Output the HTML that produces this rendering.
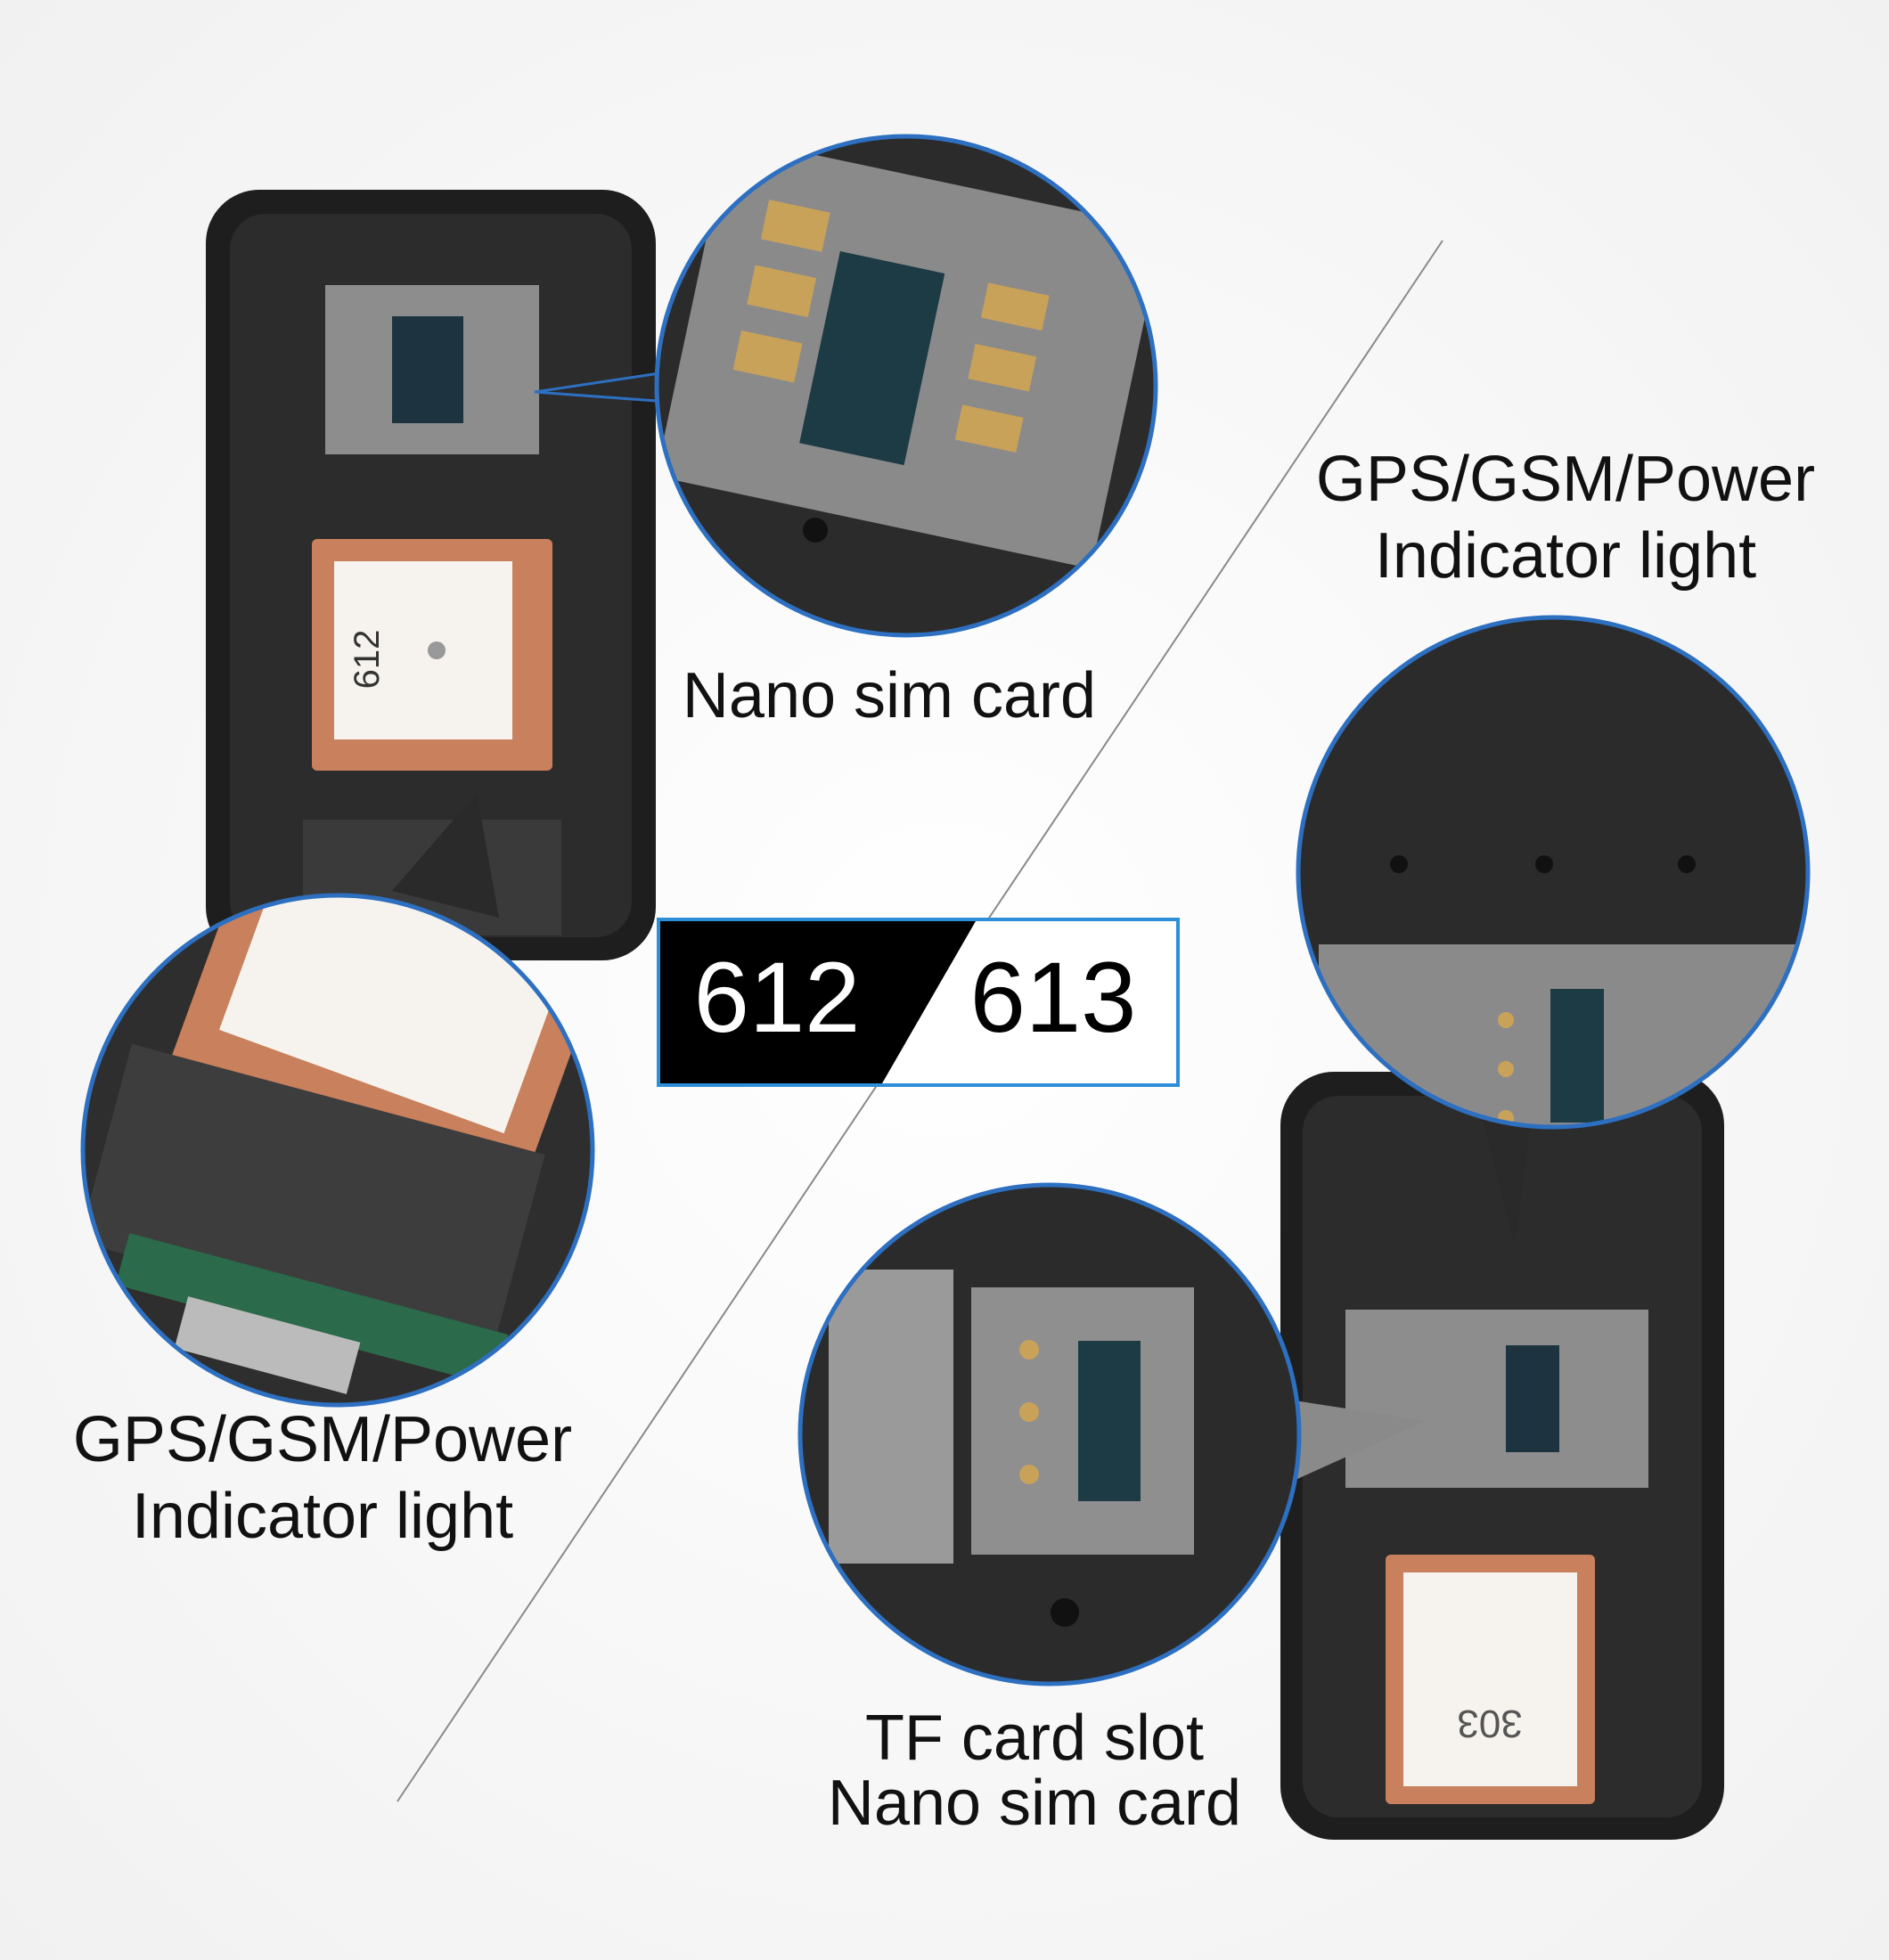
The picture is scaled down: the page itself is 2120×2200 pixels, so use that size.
<!DOCTYPE html>
<html><head><meta charset="utf-8"><style>
html,body{margin:0;padding:0;background:#f8f8f8;}
svg{display:block}
text{font-family:"Liberation Sans",sans-serif;}
</style></head><body>
<svg width="2120" height="2200" viewBox="0 0 2120 2200" xmlns="http://www.w3.org/2000/svg">
<defs>
<radialGradient id="bg" cx="50%" cy="50%" r="70%"><stop offset="0" stop-color="#ffffff"/><stop offset="1" stop-color="#f1f1f1"/></radialGradient>
<clipPath id="c1"><circle cx="1017" cy="433" r="280"/></clipPath>
<clipPath id="c2"><circle cx="379" cy="1291" r="286"/></clipPath>
<clipPath id="c3"><circle cx="1743" cy="979" r="286"/></clipPath>
<clipPath id="c4"><circle cx="1178" cy="1610" r="280"/></clipPath>
</defs>
<rect width="2120" height="2200" fill="url(#bg)"/>
<line x1="1619" y1="270" x2="446" y2="2022" stroke="#8a8a8a" stroke-width="2"/>

<!-- left device -->
<rect x="231" y="213" width="505" height="865" rx="60" fill="#1e1e1e"/>
<rect x="258" y="240" width="451" height="812" rx="40" fill="#2c2c2c"/>
<rect x="365" y="320" width="240" height="190" fill="#8d8d8d"/>
<rect x="440" y="355" width="80" height="120" fill="#1e3340"/>
<rect x="350" y="605" width="270" height="260" rx="6" fill="#c9805c"/>
<rect x="375" y="630" width="200" height="200" fill="#f6f3ee"/>
<text x="425" y="740" font-size="40" fill="#333" transform="rotate(-90 425 740)" text-anchor="middle">612</text>
<circle cx="490" cy="730" r="10" fill="#999"/>
<rect x="340" y="920" width="290" height="130" fill="#3a3a3a"/>
<polygon points="600,440 1000,380 1010,470" fill="#2a2a2a" stroke="#2d6fc0" stroke-width="3"/>
<polygon points="440,1000 535,890 560,1030" fill="#2a2a2a"/>

<!-- top circle -->
<g clip-path="url(#c1)">
<rect x="730" y="150" width="580" height="570" fill="#2b2b2b"/>
<rect x="770" y="200" width="500" height="390" fill="#8a8a8a" transform="rotate(12 1017 400)"/>
<g fill="#c9a25a" transform="rotate(12 1017 400)">
<rect x="830" y="260" width="70" height="45"/><rect x="830" y="335" width="70" height="45"/><rect x="830" y="410" width="70" height="45"/>
<rect x="1090" y="300" width="70" height="40"/><rect x="1090" y="370" width="70" height="40"/><rect x="1090" y="440" width="70" height="40"/>
</g>
<rect x="920" y="300" width="120" height="220" fill="#1d3b45" transform="rotate(12 1017 400)"/>
<circle cx="915" cy="595" r="14" fill="#111"/>
</g>
<circle cx="1017" cy="433" r="280" fill="none" stroke="#2d6fc0" stroke-width="5"/>

<!-- bottom-left circle -->
<g clip-path="url(#c2)">
<rect x="90" y="1000" width="580" height="580" fill="#2e2e2e"/>
<rect x="230" y="960" width="420" height="320" fill="#c9805c" transform="rotate(20 440 1120)"/>
<rect x="270" y="960" width="340" height="260" fill="#f6f3ee" transform="rotate(20 440 1120)"/>
<rect x="110" y="1230" width="480" height="230" fill="#3d3d3d" transform="rotate(15 350 1345)"/>
<rect x="130" y="1440" width="440" height="60" fill="#2b6a4a" transform="rotate(15 350 1470)"/>
<rect x="200" y="1480" width="200" height="60" fill="#bbb" transform="rotate(15 300 1510)"/>
</g>
<circle cx="379" cy="1291" r="286" fill="none" stroke="#2d6fc0" stroke-width="5"/>

<!-- 612/613 box -->
<rect x="739" y="1032" width="583" height="186" fill="#fff" stroke="#2d8fd8" stroke-width="4"/>
<polygon points="741,1034 1095,1034 990,1216 741,1216" fill="#000"/>
<text x="872" y="1158" font-size="112" fill="#fff" text-anchor="middle">612</text>
<text x="1182" y="1158" font-size="112" fill="#000" text-anchor="middle">613</text>

<!-- right device -->
<rect x="1437" y="1203" width="498" height="862" rx="60" fill="#1e1e1e"/>
<rect x="1462" y="1230" width="448" height="810" rx="40" fill="#2c2c2c"/>
<rect x="1510" y="1470" width="340" height="200" fill="#8d8d8d"/>
<rect x="1690" y="1510" width="60" height="120" fill="#1e3340"/>
<rect x="1555" y="1745" width="235" height="280" rx="6" fill="#c9805c"/>
<rect x="1575" y="1765" width="195" height="240" fill="#f6f3ee"/>
<text x="1672" y="1950" font-size="44" fill="#555" text-anchor="middle" transform="rotate(180 1672 1935)">303</text>
<polygon points="1440,1570 1600,1595 1445,1665" fill="#8a8a8a"/>
<polygon points="1660,1240 1700,1400 1720,1240" fill="#2a2a2a"/>

<!-- right top circle -->
<g clip-path="url(#c3)">
<rect x="1450" y="690" width="590" height="580" fill="#2b2b2b"/>
<circle cx="1570" cy="970" r="10" fill="#111"/><circle cx="1733" cy="970" r="10" fill="#111"/><circle cx="1893" cy="970" r="10" fill="#111"/>
<rect x="1480" y="1060" width="540" height="220" fill="#8a8a8a"/>
<rect x="1740" y="1110" width="60" height="150" fill="#1d3b45"/>
<g fill="#c9a25a"><circle cx="1690" cy="1145" r="9"/><circle cx="1690" cy="1200" r="9"/><circle cx="1690" cy="1255" r="9"/></g>
</g>
<circle cx="1743" cy="979" r="286" fill="none" stroke="#2d6fc0" stroke-width="5"/>

<!-- right bottom circle -->
<g clip-path="url(#c4)">
<rect x="890" y="1325" width="580" height="570" fill="#2b2b2b"/>
<rect x="930" y="1425" width="140" height="330" fill="#9a9a9a"/>
<rect x="1090" y="1445" width="250" height="300" fill="#8f8f8f"/>
<rect x="1210" y="1505" width="70" height="180" fill="#1d3b45"/>
<g fill="#c9a25a"><circle cx="1155" cy="1515" r="11"/><circle cx="1155" cy="1585" r="11"/><circle cx="1155" cy="1655" r="11"/></g>
<circle cx="1195" cy="1810" r="16" fill="#111"/>
</g>
<circle cx="1178" cy="1610" r="280" fill="none" stroke="#2d6fc0" stroke-width="5"/>

<!-- labels -->
<g font-size="72" fill="#111" text-anchor="middle">
<text x="998" y="805">Nano sim card</text>
<text x="1757" y="562">GPS/GSM/Power</text>
<text x="1757" y="648">Indicator light</text>
<text x="362" y="1640">GPS/GSM/Power</text>
<text x="362" y="1726">Indicator light</text>
<text x="1161" y="1975">TF card slot</text>
<text x="1161" y="2048">Nano sim card</text>
</g>
</svg>
</body></html>
